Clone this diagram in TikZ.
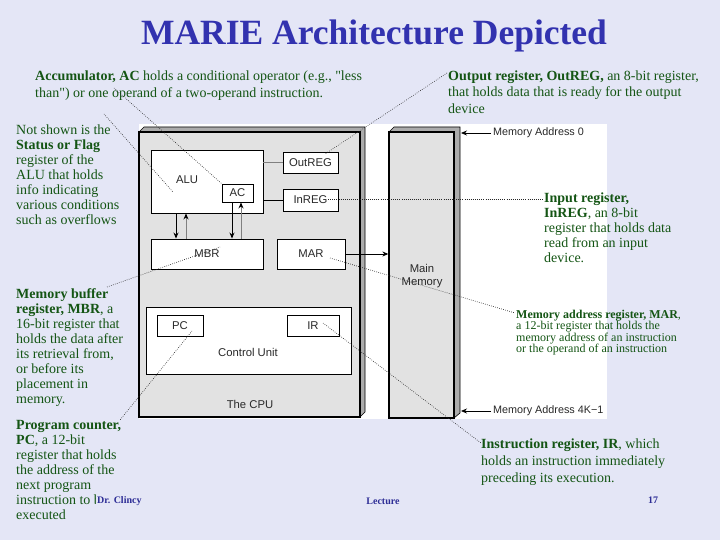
\documentclass[tikz,border=0pt]{standalone}
\usepackage{fontspec}
\setmainfont{Liberation Serif}
\setsansfont{Liberation Sans}
\newfontfamily\plainserif{Liberation Serif}[Ligatures=TeXOff]
\usetikzlibrary{arrows.meta}
\definecolor{bg}{RGB}{228,230,246}
\definecolor{notegreen}{RGB}{20,85,20}
\definecolor{titleblue}{RGB}{50,50,175}
\definecolor{footblue}{RGB}{45,45,150}
\definecolor{cpugray}{RGB}{226,226,226}
\definecolor{sidegray}{RGB}{172,172,172}
\definecolor{labelgray}{RGB}{40,40,40}
\begin{document}
\begin{tikzpicture}[x=1pt,y=-1pt,
 note/.style={anchor=north west, inner sep=0pt, align=left, text=notegreen, font=\fontsize{14}{15}\selectfont},
 reg/.style={draw=black, fill=white, line width=0.9pt, inner sep=0pt, text=labelgray, font=\sffamily\fontsize{11.3}{13}\selectfont},
 lbl/.style={inner sep=0pt, text=labelgray, font=\sffamily\fontsize{11.3}{13.5}\selectfont, align=center},
 leader/.style={line width=0.6pt, dash pattern=on 0.7pt off 1.4pt, black!85},
 dataarrow/.style={line width=1pt, -{Stealth[length=6pt,width=5pt]}},
 backarrow/.style={line width=0.8pt, gray, -{Stealth[length=6pt,width=5pt,color=black]}},
 addrarrow/.style={line width=0.8pt, -{Stealth[length=6pt,width=5pt]}},
 foot/.style={inner sep=0pt, text=footblue, font=\bfseries\fontsize{10}{12}\selectfont, anchor=base},
 bigbox/.style={draw=black, line width=1.3pt, fill=cpugray, inner sep=0pt}
]
\useasboundingbox (0,0) rectangle (720,540);
\fill[bg] (0,0) rectangle (720,540);
\fill[white] (139,124) rectangle (607,419);

% title
\node[anchor=base, inner sep=0pt, text=titleblue, font=\bfseries\fontsize{35.5}{40}\selectfont] (title) at (374,45) {MARIE Architecture Depicted};

% CPU
\fill[sidegray, draw=black, line width=0.6pt] (139,132) -- (144,127) -- (365,127) -- (365,412) -- (360,417) -- cycle;
\node[bigbox, minimum width=221pt, minimum height=285pt] (cpu) at (249.5,274.5) {};
\node[lbl] (cpulbl) at (250,404) {The CPU};

% Memory
\fill[sidegray, draw=black, line width=0.6pt] (389,132) -- (394,127) -- (460,127) -- (460,413) -- (454,418) -- cycle;
\node[bigbox, minimum width=65pt, minimum height=286pt] (mem) at (421.5,275) {};
\node[lbl] (memlbl) at (422,276) {Main\\Memory};

% registers
\node[reg, minimum width=112pt, minimum height=63pt] (alu) at (207,181.5) {};
\node[lbl] (alulbl) at (187,180) {ALU};
\node[reg, minimum width=31pt, minimum height=18pt] (ac) at (237.5,193) {AC};
\node[reg, minimum width=55pt, minimum height=21pt] (outreg) at (310.5,162.5) {OutREG};
\node[reg, minimum width=55pt, minimum height=22pt] (inreg) at (310.5,200) {InREG};
\node[reg, minimum width=112pt, minimum height=30pt] (mbr) at (207,254) {MBR};
\node[reg, minimum width=68pt, minimum height=30pt] (mar) at (311,254) {MAR};
\node[reg, minimum width=205pt, minimum height=67pt] (cu) at (248.5,340.5) {};
\node[lbl] (culbl) at (248,352) {Control Unit};
\node[reg, minimum width=46pt, minimum height=21pt] (pc) at (180,325.5) {PC};
\node[reg, minimum width=52pt, minimum height=21pt] (ir) at (313,325.5) {IR};

% connections
\draw[gray, line width=0.8pt] (outreg.west -| alu.east) -- (outreg.west);
\draw[black, line width=0.9pt] (inreg.west -| alu.east) -- (inreg.west);
\draw[dataarrow] ([xshift=-31pt]alu.south) -- ([xshift=-31pt]mbr.north);
\draw[backarrow] ([xshift=-21pt]mbr.north) -- ([xshift=-21pt]alu.south);
\draw[dataarrow] ([xshift=-5.5pt]ac.south) -- ([xshift=-5.5pt]ac.south |- mbr.north);
\draw[backarrow] ([xshift=3.5pt]ac.south |- mbr.north) -- ([xshift=3.5pt]ac.south);
\draw[dataarrow] (mar.east) -- (mar.east -| mem.west);

% memory addresses
\node[lbl, anchor=west, font=\sffamily\fontsize{10.8}{12}\selectfont] (ma0) at (493,133) {Memory Address 0};
\node[lbl, anchor=west, font=\sffamily\fontsize{10.8}{12}\selectfont] (mak) at (493,411) {Memory Address 4K−1};
\coordinate (ma0tip) at (461,133);
\coordinate (maktip) at (461,411);
\draw[addrarrow] ([xshift=-2pt]ma0.west) -- (ma0tip);
\draw[addrarrow] ([xshift=-2pt]mak.west) -- (maktip);

% notes
\node[note, font=\fontsize{14}{16.5}\selectfont] (accnote) at (35,71) {\textbf{Accumulator, AC} holds a conditional operator (e.g., {\plainserif "}less\\than{\plainserif "}) or one operand of a two-operand instruction.};
\node[note, font=\fontsize{14}{16.3}\selectfont] (outnote) at (448,70.5) {\textbf{Output register, OutREG,} an 8-bit register,\\that holds data that is ready for the output\\device};
\node[note] (flagnote) at (16,124.3) {Not shown is the\\\textbf{Status or Flag}\\register of the\\ALU that holds\\info indicating\\various conditions\\such as overflows};
\node[note] (innote) at (544,193) {\textbf{Input register,}\\\textbf{InREG}, an 8-bit\\register that holds data\\read from an input\\device.};
\node[note] (mbrnote) at (16,288.6) {\textbf{Memory buffer}\\\textbf{register, MBR}, a\\16-bit register that\\holds the data after\\its retrieval from,\\or before its\\placement in\\memory.};
\node[note, font=\fontsize{12}{11.4}\selectfont] (marnote) at (516,310) {\textbf{Memory address register, MAR},\\a 12-bit register that holds the\\memory address of an instruction\\or the operand of an instruction};
\node[note] (pcnote) at (16,420.3) {\textbf{Program counter,}\\\textbf{PC}, a 12-bit\\register that holds\\the address of the\\next program\\instruction to be\\executed};
\node[note, font=\fontsize{14}{17}\selectfont] (irnote) at (481,438.6) {\textbf{Instruction register, IR}, which\\holds an instruction immediately\\preceding its execution.};

% leaders
\coordinate (accA) at (114,88);
\coordinate (flagA) at (104,114);
\coordinate (flagB) at (173,192);
\coordinate (outA) at (447,73);
\coordinate (outB) at (325,154);
\coordinate (inA) at (328,199);
\coordinate (inB) at (543,199);
\coordinate (mbrA) at (107,287);
\coordinate (mbrB) at (220,247);
\coordinate (marA) at (330,258);
\coordinate (marB) at (515,313);
\coordinate (pcA) at (192,331);
\coordinate (pcB) at (120,420);
\coordinate (irA) at (323,323);
\coordinate (irB) at (481,443);
\draw[leader] (accA) -- (ac.north west);
\draw[leader] (flagA) -- (flagB);
\draw[leader] (outA) -- (outB);
\draw[leader] (inA) -- (inB);
\draw[leader] (mbrA) -- (mbrB);
\draw[leader] (marA) -- (marB);
\draw[leader] (pcA) -- (pcB);
\draw[leader] (irA) -- (irB);

% footer
\node[foot, anchor=base west, fill=bg, inner xsep=1pt] (author) at (96,503.5) {Dr. Clincy};
\node[foot] (lecture) at (383,504) {Lecture};
\node[foot] (page) at (653,503.5) {17};
\end{tikzpicture}
\end{document}
